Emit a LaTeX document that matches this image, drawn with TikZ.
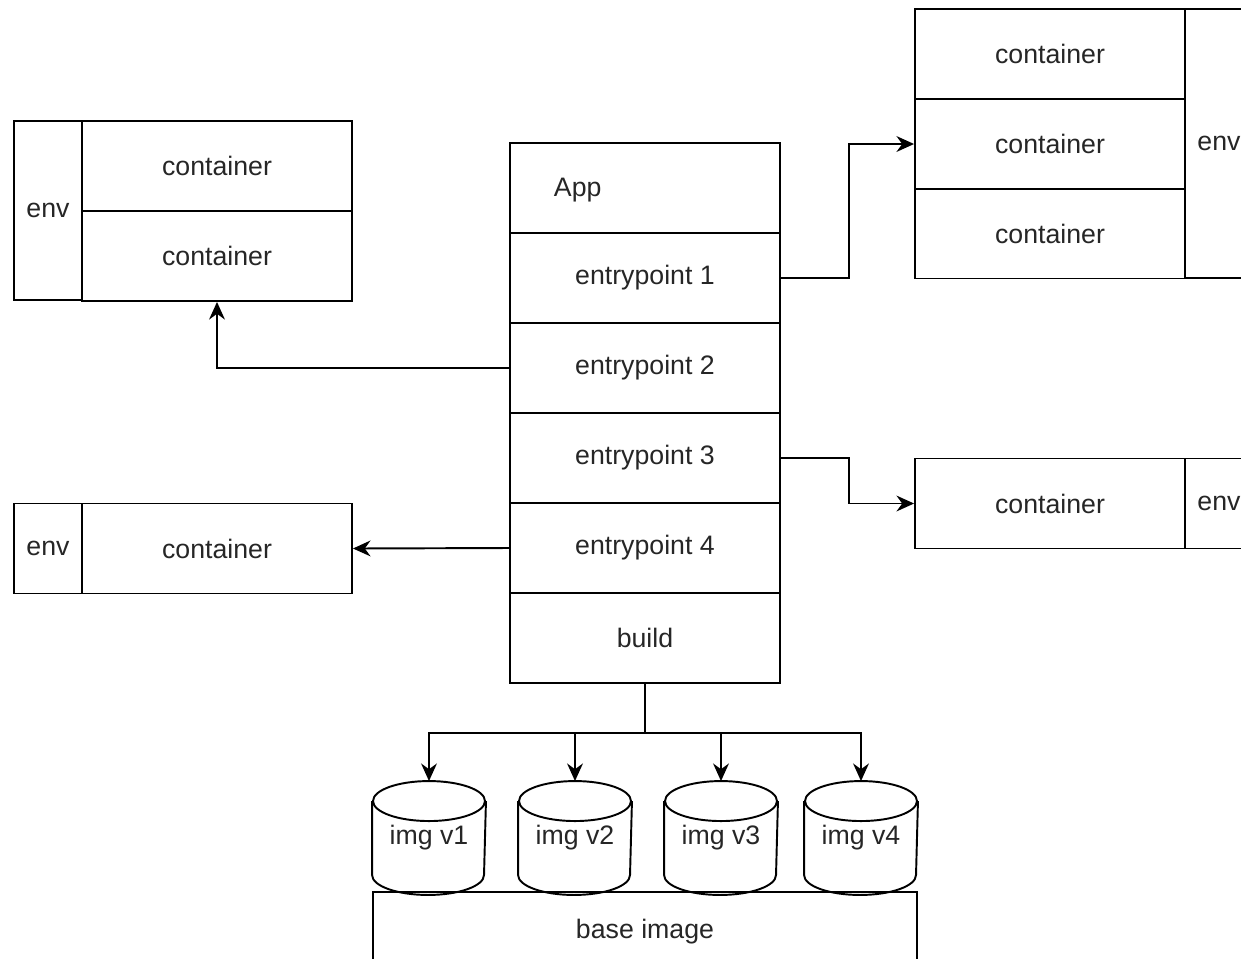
\documentclass[tikz,border=0pt]{standalone}
\usepackage{fontspec}
\setmainfont{Liberation Sans}
\usetikzlibrary{arrows.meta}

\begin{document}
\begin{tikzpicture}[x=0.02cm, y=-0.02cm, line width=1.1pt,
  >={Stealth[length=10pt,width=9pt]},
  txt/.style={font=\fontsize{15.2}{18}\selectfont, text=black!85, inner sep=0pt},
  cell/.style={draw, txt, minimum width=5.4cm, minimum height=1.8cm},
  envcell/.style={cell, minimum width=1.36cm},
  imgbox/.style={txt, minimum width=2.24cm, minimum height=2.24cm},
  lid/.style={x radius=1.12cm, y radius=0.4cm}]
\useasboundingbox (0,0) rectangle (1241,958);
\clip (0,0) rectangle (1241,958);
% app with its entrypoints
\node[cell] (app) at (645,188) {};
\node[txt, anchor=west] (apptxt) at (553,190) {App};
\node[cell] (ep1) at (645,278) {entrypoint 1};
\node[cell] (ep2) at (645,368) {entrypoint 2};
\node[cell] (ep3) at (645,458) {entrypoint 3};
\node[cell] (ep4) at (645,548) {entrypoint 4};
\node[cell] (build) at (645,638) {build};
% left envs
\node[envcell, minimum height=3.58cm] (envA) at (48,210.5) {env};
\node[cell] (contA1) at (217,166) {container};
\node[cell] (contA2) at (217,256) {container};
\node[envcell] (envB) at (48,548.5) {env};
\node[cell] (contB) at (217,548.5) {container};
% right envs
\node[cell] (contC1) at (1050,54) {container};
\node[cell] (contC2) at (1050,144) {container};
\node[cell] (contC3) at (1050,233.5) {container};
\node[envcell, minimum height=5.38cm] (envC) at (1219,143.5) {env};
\node[cell] (contD) at (1050,503.5) {container};
\node[envcell] (envD) at (1219,503.5) {env};
% images, drawn as cylinders
\foreach \i/\x in {1/429,2/575,3/721,4/861} {
  \node[imgbox] (img\i) at (\x,838) {img v\i};
  \draw ([yshift=-0.4cm]img\i.north) ellipse [lid];
  \draw ([yshift=-0.4cm]img\i.north west) -- ([yshift=0.4cm]img\i.south west)
    arc [start angle=180, end angle=360, lid] -- ([yshift=-0.4cm]img\i.north east);
}
\node[cell, minimum width=10.88cm, minimum height=1.6cm] (base) at (645,932) {base image};
% connectors
\draw[->] (ep1.east) -- ++(68,0) |- (contC2.west);
\draw[->] (ep2.west) -| (contA2.south);
\draw[->] (ep3.east) -- ++(68,0) |- (contD.west);
\draw[->] (ep4.west) -- (contB.east);
\coordinate (split) at (645,733);
\draw (build.south) -- (split);
\foreach \i in {1,...,4}
  \draw[->] (split) -| (img\i.north);
\end{tikzpicture}
\end{document}
